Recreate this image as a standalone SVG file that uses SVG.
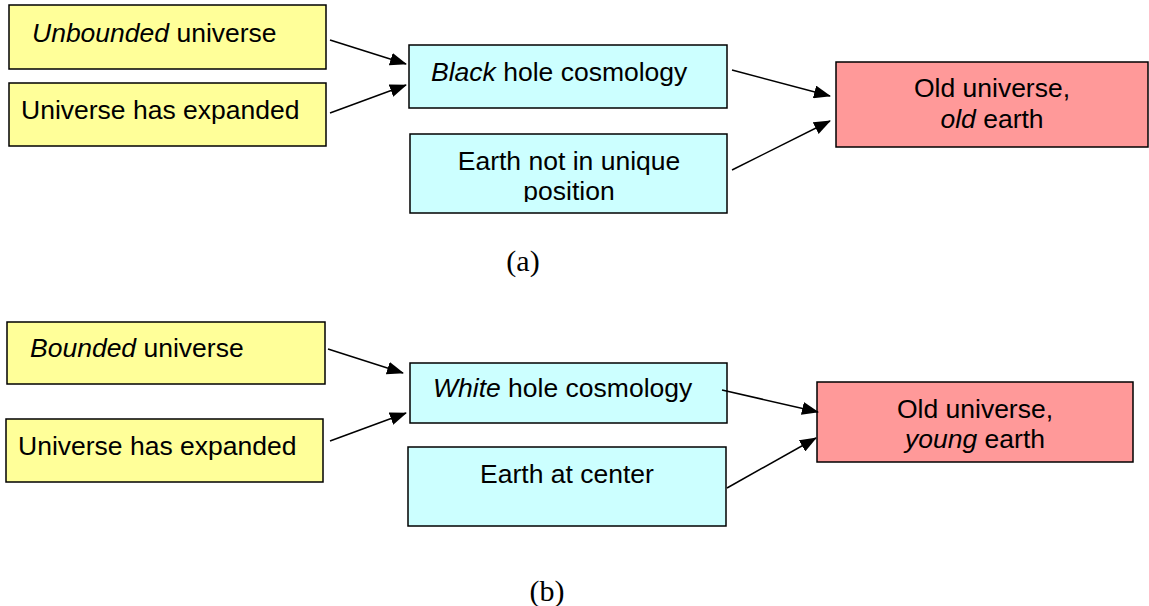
<svg xmlns="http://www.w3.org/2000/svg" width="1149" height="606" viewBox="0 0 1149 606">
<style>
.box{stroke:#000;stroke-width:1.5}
.y{fill:#FFFF99}.c{fill:#CCFFFF}.p{fill:#FF9999}
text{font-family:"Liberation Sans",Arial,sans-serif;font-size:26.5px;fill:#000}
.i{font-style:italic}
.m{text-anchor:middle}
.cap{font-family:"Liberation Serif","Times New Roman",serif;font-size:30px;text-anchor:middle}
.con line{stroke:#000;stroke-width:1.5;marker-end:url(#ah)}
</style>
<defs>
<marker id="ah" markerWidth="17" markerHeight="13" refX="16" refY="6.5" orient="auto" markerUnits="userSpaceOnUse">
<path d="M0,0 L17,6.5 L0,13 Z" fill="#000"/>
</marker>
<clipPath id="clipEarth"><rect x="409" y="134" width="318" height="68"/></clipPath>
</defs>
<rect width="1149" height="606" fill="#fff"/>

<g id="a-unbounded"><rect class="box y" x="9" y="5" width="317" height="64"/><text x="32" y="42"><tspan class="i">Unbounded</tspan> universe</text></g>
<g id="a-expanded"><rect class="box y" x="9" y="83" width="317" height="63"/><text x="21" y="119">Universe has expanded</text></g>
<g id="a-black"><rect class="box c" x="409" y="45" width="318" height="63"/><text x="431" y="81"><tspan class="i">Black</tspan> hole cosmology</text></g>
<g id="a-earth"><rect class="box c" x="410" y="134" width="317" height="79"/><text class="m" x="569" y="170" clip-path="url(#clipEarth)"><tspan x="569">Earth not in unique</tspan><tspan x="569" dy="30">position</tspan></text></g>
<g id="a-old"><rect class="box p" x="836" y="62" width="312" height="85"/><text class="m" x="992" y="97"><tspan x="992">Old universe,</tspan><tspan x="992" dy="31"><tspan class="i">old</tspan> earth</tspan></text></g>

<g id="b-bounded"><rect class="box y" x="7" y="322" width="318" height="62"/><text x="30" y="357"><tspan class="i">Bounded</tspan> universe</text></g>
<g id="b-expanded"><rect class="box y" x="6" y="419" width="317" height="63"/><text x="18" y="455">Universe has expanded</text></g>
<g id="b-white"><rect class="box c" x="410" y="363" width="317" height="60"/><text x="433" y="397"><tspan class="i">White</tspan> hole cosmology</text></g>
<g id="b-earth"><rect class="box c" x="408" y="447" width="318" height="79"/><text class="m" x="567" y="483">Earth at center</text></g>
<g id="b-old"><rect class="box p" x="817" y="382" width="316" height="80"/><text class="m" x="975" y="418"><tspan x="975">Old universe,</tspan><tspan x="975" dy="30"><tspan class="i">young</tspan> earth</tspan></text></g>

<g id="connectors" class="con">
<line x1="330" y1="40" x2="406" y2="64"/>
<line x1="330" y1="113" x2="406" y2="85"/>
<line x1="732" y1="70" x2="830" y2="96"/>
<line x1="732" y1="170" x2="830" y2="121"/>
<line x1="328" y1="349" x2="403" y2="373"/>
<line x1="330" y1="441" x2="406" y2="413"/>
<line x1="722" y1="390" x2="818" y2="412"/>
<line x1="727" y1="488" x2="816" y2="438"/>
</g>

<text class="cap" x="523" y="271">(a)</text>
<text class="cap" x="547" y="601">(b)</text>
</svg>
